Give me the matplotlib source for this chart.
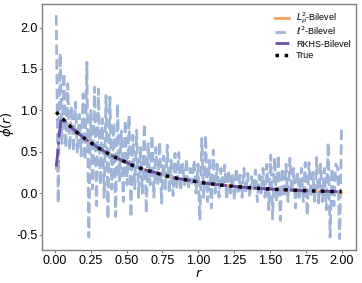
import numpy as np
import matplotlib
matplotlib.use("Agg")
import matplotlib.pyplot as plt
from matplotlib.transforms import Bbox

plt.rcParams['axes.unicode_minus'] = False
plt.rcParams['font.family'] = ['Liberation Sans', 'DejaVu Sans']

# smooth curves grid
r_curve = [0.01, 0.02, 0.03, 0.045, 0.06, 0.08, 0.10, 0.15, 0.20, 0.25, 0.30, 0.35, 0.40,
           0.45, 0.50, 0.55, 0.60, 0.65, 0.70, 0.75, 0.80, 0.85, 0.90, 0.95, 1.00, 1.05,
           1.10, 1.15, 1.20, 1.25, 1.30, 1.35, 1.40, 1.45, 1.50, 1.55, 1.60, 1.65, 1.70,
           1.75, 1.80, 1.85, 1.90, 1.95, 2.00]
true_vals = [0.98, 0.96, 0.94, 0.91, 0.89, 0.85, 0.82, 0.74, 0.67, 0.61, 0.55, 0.50, 0.45,
             0.41, 0.37, 0.33, 0.30, 0.27, 0.25, 0.22, 0.20, 0.18, 0.165, 0.15, 0.135, 0.12,
             0.11, 0.10, 0.09, 0.082, 0.074, 0.067, 0.061, 0.055, 0.05, 0.045, 0.041, 0.037,
             0.033, 0.030, 0.027, 0.025, 0.022, 0.020, 0.018]
rkhs_vals = [0.32, 0.48, 0.70, 0.90, 0.89, 0.85, 0.82, 0.74, 0.67, 0.61, 0.55, 0.50, 0.45,
             0.41, 0.37, 0.33, 0.30, 0.27, 0.25, 0.22, 0.20, 0.18, 0.165, 0.15, 0.135, 0.12,
             0.11, 0.10, 0.09, 0.082, 0.074, 0.067, 0.061, 0.055, 0.05, 0.045, 0.041, 0.037,
             0.033, 0.030, 0.027, 0.025, 0.022, 0.020, 0.018]
l2rho_vals = [0.30, 0.47, 0.68, 0.88, 0.88, 0.85, 0.82, 0.74, 0.67, 0.61, 0.55, 0.50, 0.46,
              0.41, 0.39, 0.33, 0.30, 0.27, 0.25, 0.22, 0.19, 0.18, 0.165, 0.15, 0.135, 0.12,
              0.11, 0.10, 0.09, 0.085, 0.074, 0.065, 0.061, 0.055, 0.05, 0.045, 0.041, 0.037,
              0.020, 0.030, 0.027, 0.012, 0.025, 0.020, 0.005]

# noisy l2-Bilevel estimate
r_l2 = np.linspace(0.01, 2.0, 150)
l2_vals = [2.15, -0.12, 1.69, 0.60, 1.45, 0.55, 1.32, 0.52, 1.05, 0.50,
           1.10, 0.48, 0.95, 0.45, 1.20, 0.40, 1.58, -0.53, 1.00, 0.05,
           1.28, -0.15, 1.26, 0.10, 0.90, -0.05, 1.18, -0.31, 1.16, 0.05,
           0.85, -0.28, 1.08, 0.15, 0.75, -0.10, 0.88, 0.10, 0.94, -0.29,
           0.70, 0.05, 0.76, -0.05, 0.55, 0.00, 0.84, -0.24, 0.60, 0.10,
           0.70, -0.05, 0.55, 0.10, 0.62, -0.12, 0.45, 0.05, 0.58, 0.00,
           0.40, -0.03, 0.48, 0.05, 0.49, 0.03, 0.35, 0.10, 0.42, 0.05,
           0.30, 0.12, 0.40, 0.00, 0.35, -0.33, 0.66, -0.05, 0.70, -0.10,
           0.40, -0.18, 0.52, 0.00, 0.35, -0.05, 0.30, 0.05, 0.34, -0.08,
           0.28, 0.00, 0.25, -0.08, 0.30, 0.02, 0.22, -0.05, 0.30, 0.00,
           0.24, -0.05, 0.20, 0.05, 0.28, -0.10, 0.22, 0.00, 0.30, -0.05,
           0.35, -0.20, 0.46, -0.31, 0.43, -0.10, 0.46, -0.33, 0.30, -0.05,
           0.35, -0.10, 0.42, 0.00, 0.30, -0.18, 0.25, -0.05, 0.30, -0.10,
           0.37, -0.27, 0.37, -0.05, 0.25, -0.10, 0.43, -0.15, 0.35, -0.10,
           0.30, -0.20, 0.61, -0.53, 0.30, -0.15, 0.35, 0.30, -0.55, 0.82]

x_ticks = [0.00, 0.25, 0.50, 0.75, 1.00, 1.25, 1.50, 1.75, 2.00]
y_ticks = [-0.5, 0.0, 0.5, 1.0, 1.5, 2.0]

fig = plt.figure(figsize=(3.62, 2.83), dpi=100)
ax = fig.add_axes([0.116, 0.117, 0.867, 0.869])

ax.plot(r_curve, l2rho_vals, '-', color='#f4a261', lw=2.0, label=r'$L^2_\rho$-Bilevel')
ax.plot(r_l2, l2_vals, '--', color='#9fb4d6', lw=2.0, label=r'$\ell^2$-Bilevel')
ax.plot(r_curve, rkhs_vals, '-.', color='#6a4fa8', lw=2.0, label='RKHS-Bilevel')
ax.plot(r_curve, true_vals, ':', color='black', lw=2.5, label='True')

ax.set_xticks(x_ticks)
ax.set_xticklabels([f"{v:.2f}" for v in x_ticks])
ax.set_yticks(y_ticks)
ax.set_yticklabels([f"{v:.1f}" for v in y_ticks])
ax.tick_params(labelsize=9, color='#808080', length=2.2, width=0.8)
ax.tick_params(axis='x', pad=1.2)
ax.tick_params(axis='y', pad=1.0)
for s in ax.spines.values():
    s.set_color('#808080')
    s.set_linewidth(1.0)

ax.set_xlabel(r'$r$', fontsize=9.5)
ax.set_ylabel(r'$\phi(r)$', fontsize=9.5)
ax.xaxis.set_label_coords(0.5, -0.072)
ax.yaxis.set_label_coords(-0.083, 0.512)

leg = ax.legend(loc='upper right', bbox_to_anchor=(0.995, 0.975), borderaxespad=0.0,
                fontsize=6.5, frameon=False, handlelength=1.55,
                handletextpad=0.75, labelspacing=0.25)

# make the first (mathtext) row as tall as the plain rows
try:
    rows = leg._legend_handle_box.get_children()[0].get_children()
    ta0 = rows[0].get_children()[1]
    ta1 = rows[2].get_children()[1]
    orig = ta0.get_bbox

    def _bbox(renderer, orig=orig, ref=ta1):
        bb = orig(renderer)
        rb = ref.get_bbox(renderer)
        return Bbox.from_bounds(bb.x0, rb.y0, bb.width, rb.height)
    ta0.get_bbox = _bbox
except Exception:
    pass

fig.savefig('out.png', dpi=100)
